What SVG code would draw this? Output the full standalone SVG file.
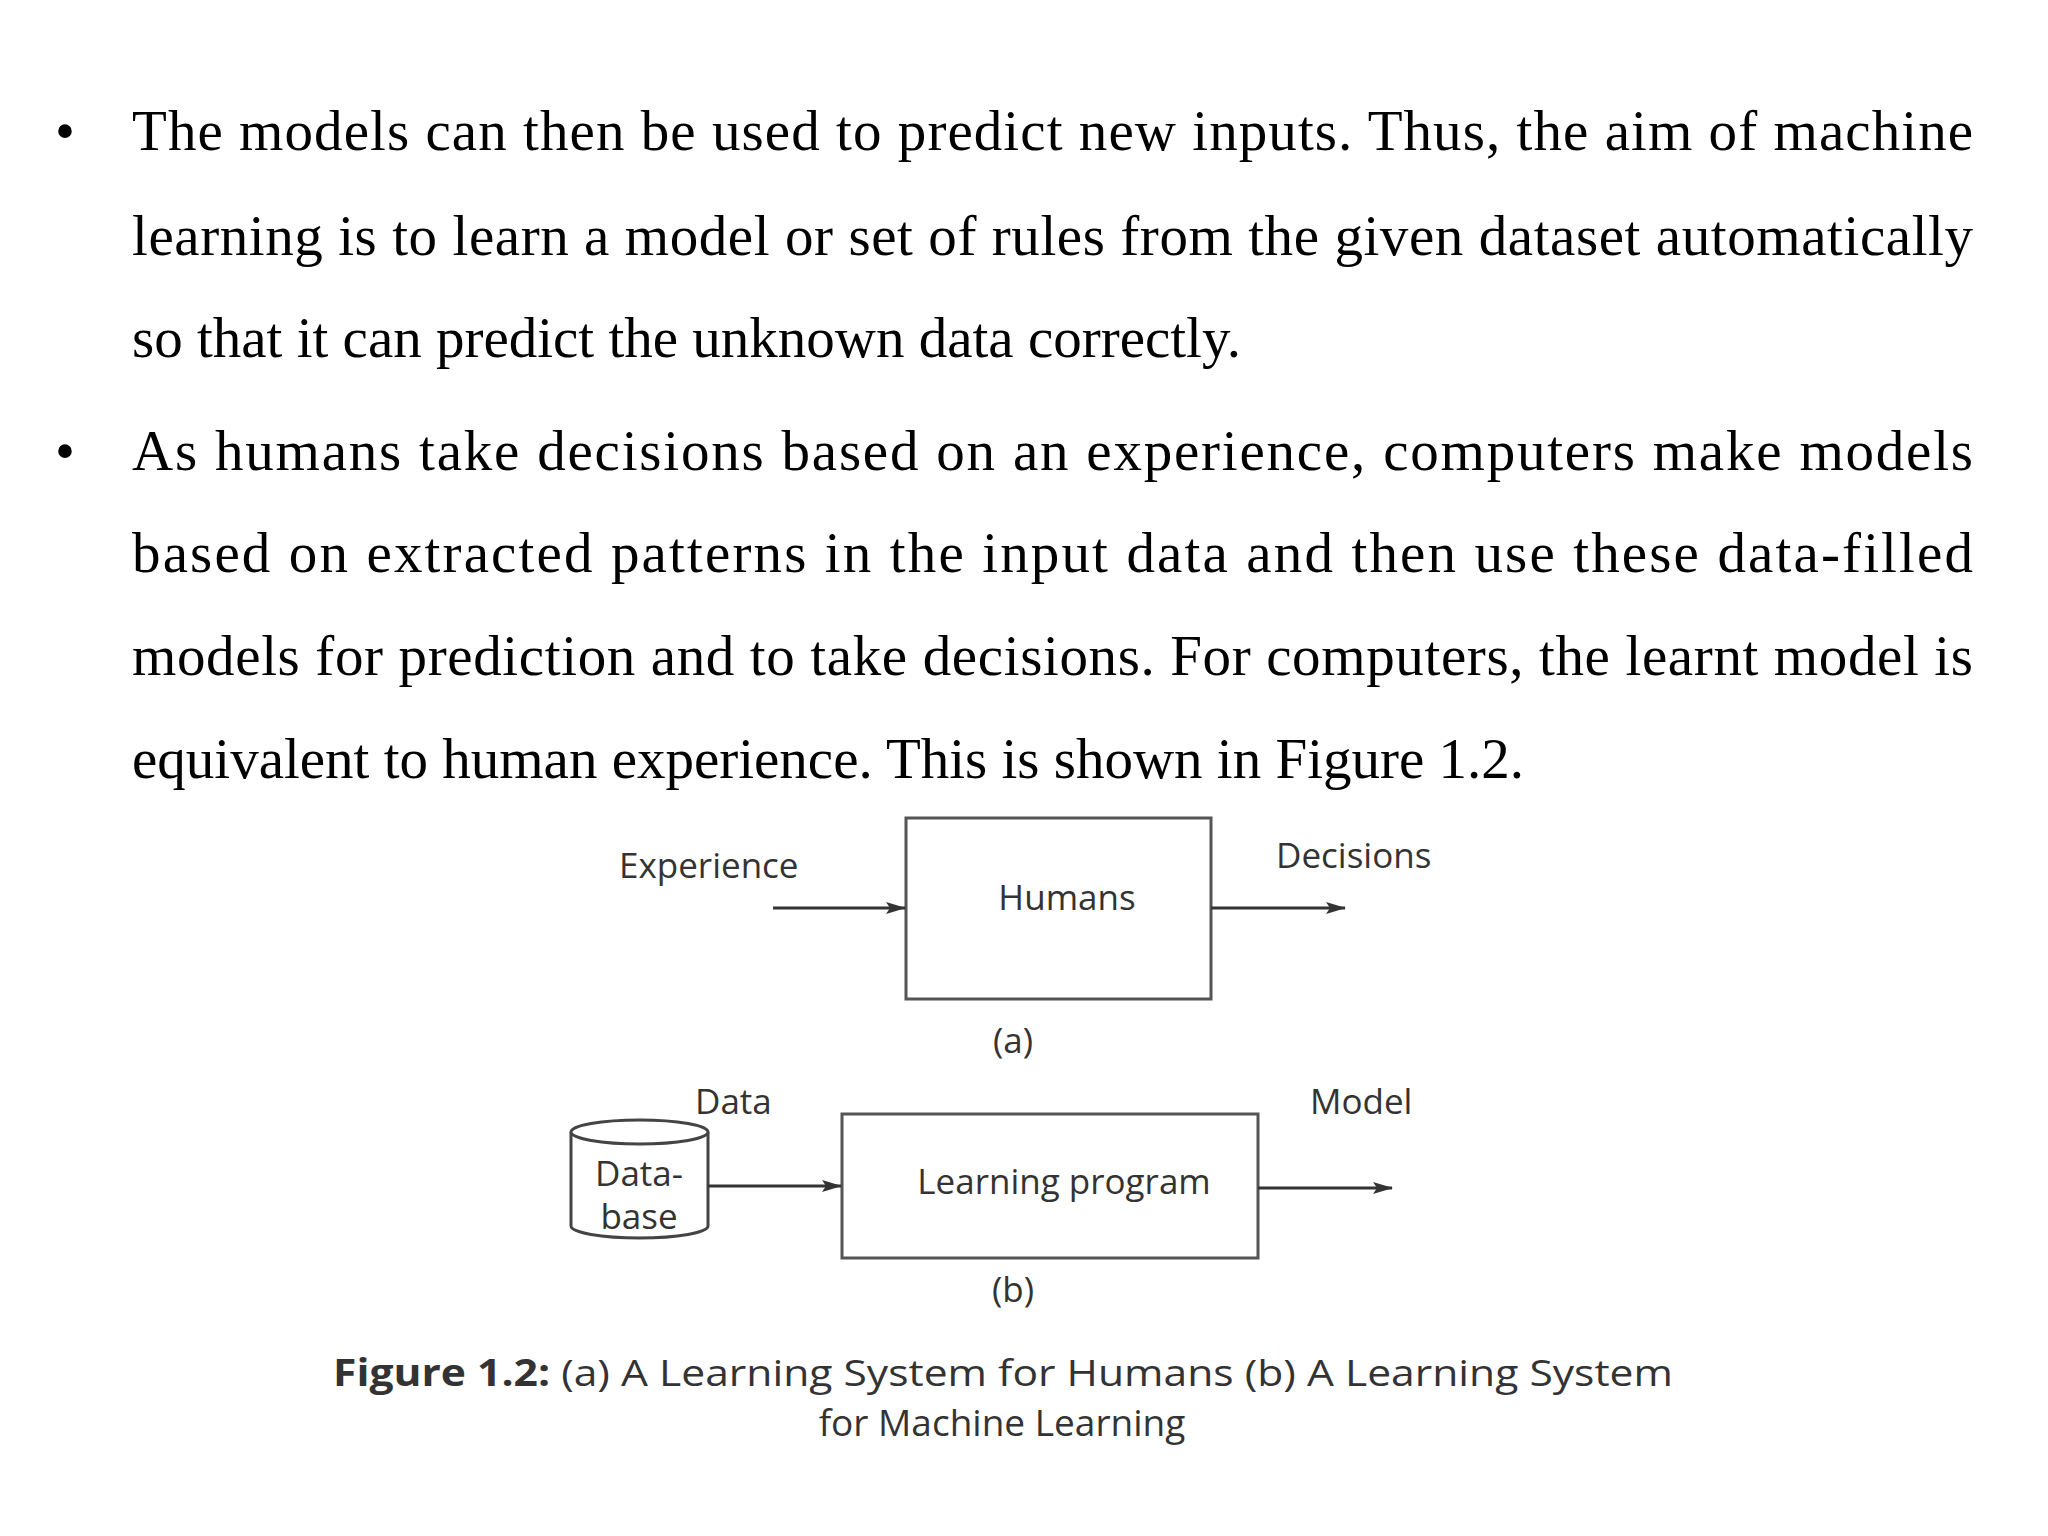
<svg xmlns="http://www.w3.org/2000/svg" width="2048" height="1536" viewBox="0 0 2048 1536">
<style>
.b{font-family:"Liberation Serif","Times New Roman",serif;font-size:57px;fill:#000}
.d{font-family:"Open Sans","DejaVu Sans",sans-serif;font-size:35px;fill:#333}
.c{font-family:"Open Sans","DejaVu Sans",sans-serif;font-size:37px;fill:#333}
.box{fill:#fff;stroke:#555;stroke-width:3}
.ln{stroke:#333;stroke-width:3;fill:none;marker-end:url(#ah)}
</style>
<defs><marker id="ah" markerWidth="20" markerHeight="12" refX="19" refY="6" orient="auto" markerUnits="userSpaceOnUse" viewBox="0 0 20 12"><path d="M0,0 L20,6 L0,12 L4,6 Z" fill="#333"/></marker></defs>
<rect width="2048" height="1536" fill="#fff"/>
<g id="text">
<text class="b" x="55" y="150">•</text>
<text class="b" x="132" y="150" textLength="1841" lengthAdjust="spacing">The models can then be used to predict new inputs. Thus, the aim of machine</text>
<text class="b" x="132" y="255" textLength="1841" lengthAdjust="spacing">learning is to learn a model or set of rules from the given dataset automatically</text>
<text class="b" x="132" y="357">so that it can predict the unknown data correctly.</text>
<text class="b" x="55" y="470">•</text>
<text class="b" x="132" y="470" textLength="1841" lengthAdjust="spacing">As humans take decisions based on an experience, computers make models</text>
<text class="b" x="132" y="572" textLength="1841" lengthAdjust="spacing">based on extracted patterns in the input data and then use these data-filled</text>
<text class="b" x="132" y="675" textLength="1841" lengthAdjust="spacing">models for prediction and to take decisions. For computers, the learnt model is</text>
<text class="b" x="132" y="778">equivalent to human experience. This is shown in Figure 1.2.</text>
</g>
<g id="humans"><rect class="box" x="906" y="818" width="305" height="181"/><text class="d" x="1067" y="910" text-anchor="middle">Humans</text></g>
<g id="learning"><rect class="box" x="842" y="1114" width="416" height="144"/><text class="d" x="1064" y="1194" text-anchor="middle">Learning program</text></g>
<g id="database">
<path d="M571,1132 L571,1226 A68.5,12 0 0 0 708,1226 L708,1132" fill="#fff" stroke="#444" stroke-width="3"/>
<ellipse cx="639.5" cy="1132" rx="68.5" ry="12" fill="#fff" stroke="#444" stroke-width="3"/>
<text class="d" x="639" y="1186" text-anchor="middle">Data-</text>
<text class="d" x="639" y="1229" text-anchor="middle">base</text>
</g>
<g id="connectors">
<line class="ln" x1="773" y1="908" x2="905" y2="908"/>
<line class="ln" x1="1211" y1="908" x2="1345" y2="908"/>
<line class="ln" x1="708" y1="1186" x2="841" y2="1186"/>
<line class="ln" x1="1258" y1="1188" x2="1392" y2="1188"/>
</g>
<g id="labels">
<text class="d" x="619" y="878">Experience</text>
<text class="d" x="1276" y="868">Decisions</text>
<text class="d" x="1013" y="1053" text-anchor="middle">(a)</text>
<text class="d" x="695" y="1114">Data</text>
<text class="d" x="1310" y="1114">Model</text>
<text class="d" x="1013" y="1302" text-anchor="middle">(b)</text>
<text class="c" x="333" y="1386" textLength="1340" lengthAdjust="spacingAndGlyphs"><tspan font-weight="bold">Figure 1.2:</tspan> (a) A Learning System for Humans (b) A Learning System</text>
<text class="c" x="1002" y="1436" text-anchor="middle">for Machine Learning</text>
</g>
</svg>
